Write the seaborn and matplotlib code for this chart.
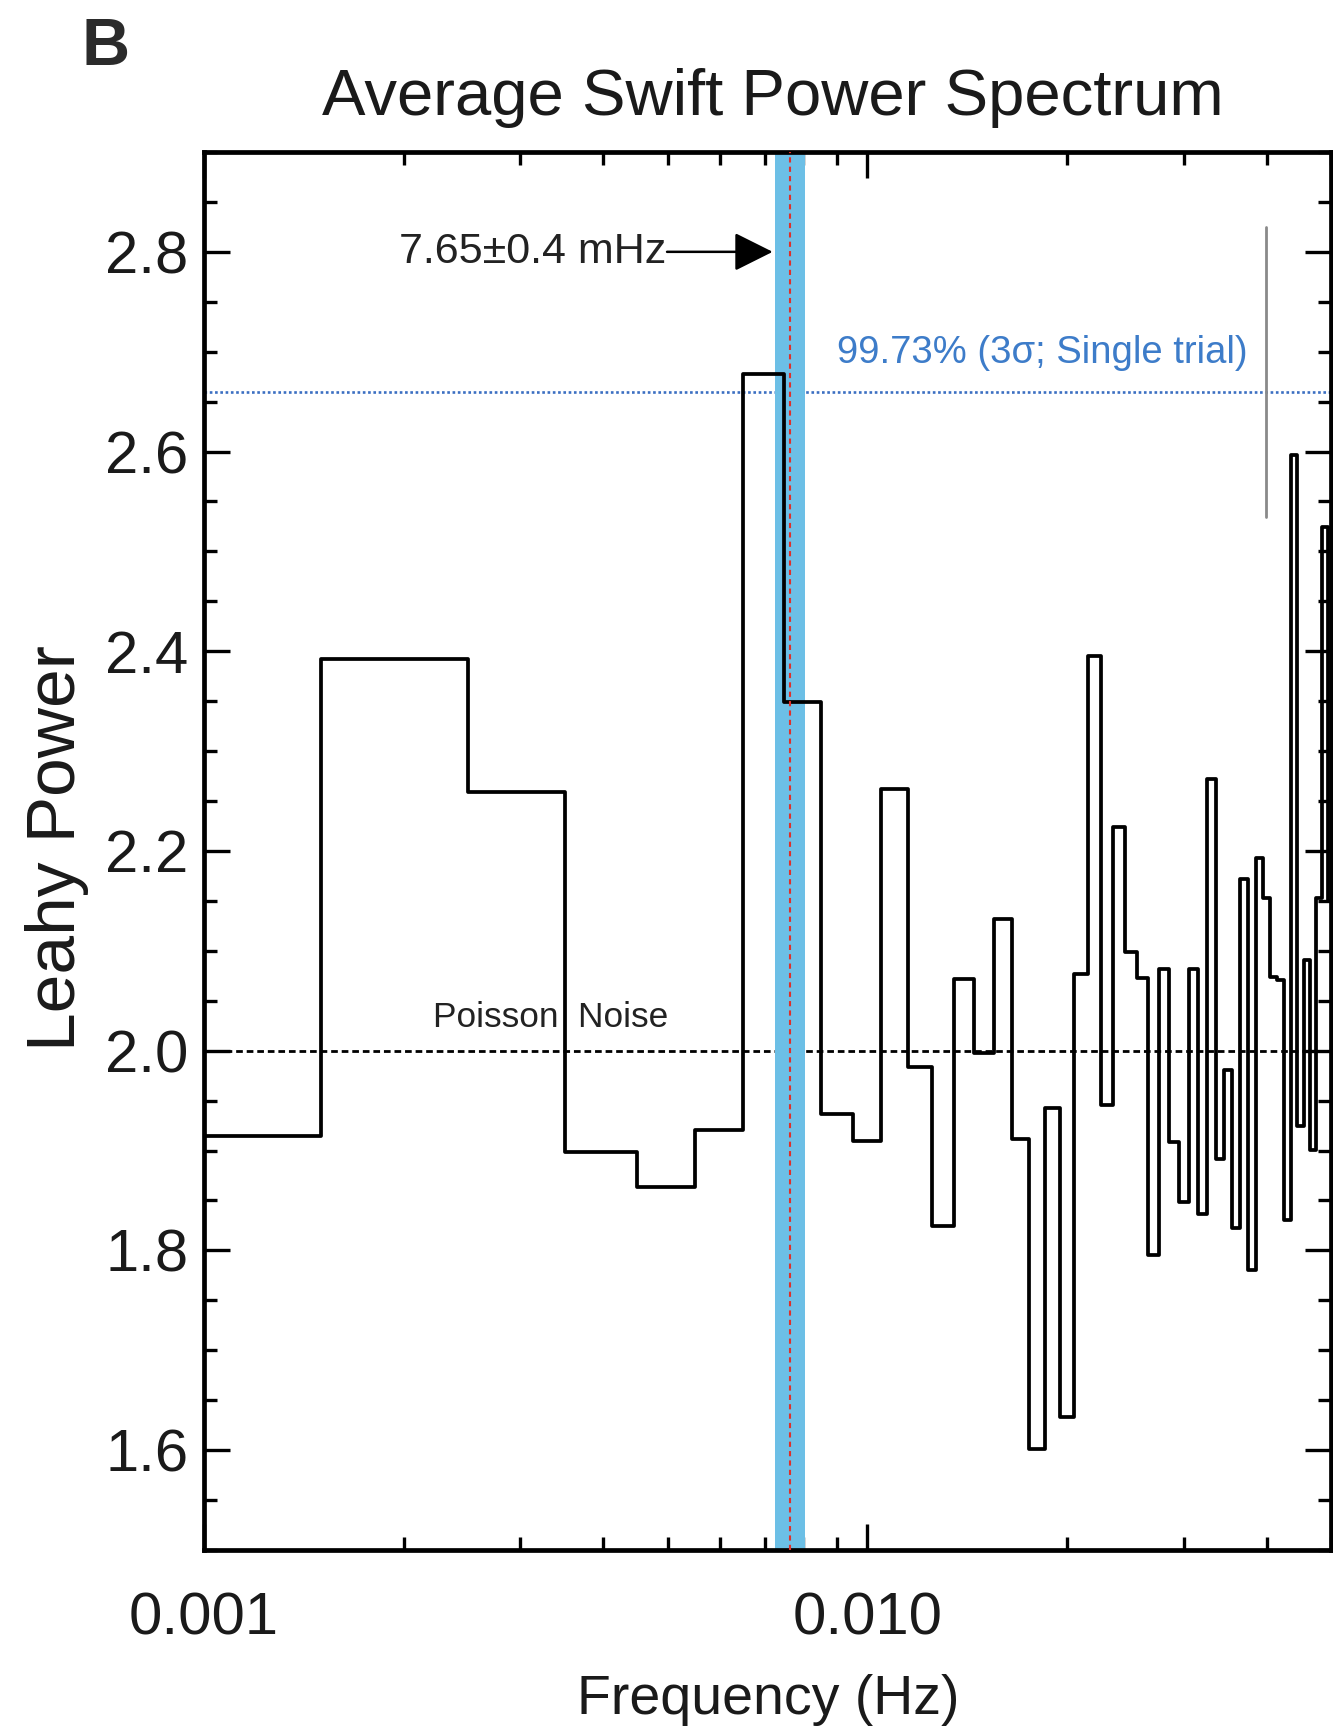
import numpy as np
import pandas as pd
import matplotlib
matplotlib.use("Agg")
import matplotlib.pyplot as plt
from matplotlib import font_manager
from matplotlib.ticker import MultipleLocator, LogLocator, NullFormatter, FixedLocator
import seaborn as sns

# ---------------- data ----------------
freq_mhz = [1, 2, 3, 4, 5, 6, 7, 8, 9, 10,
            11, 12, 13, 14, 15, 16, 17, 18, 19, 20,
            21, 22, 23, 24, 25, 26, 27, 28, 29, 30,
            31, 32, 33, 34, 35, 36, 37, 38, 39, 40,
            41, 42, 43, 44, 45, 46, 47, 48, 49, 50]
leahy_power = [1.915, 2.392, 2.259, 1.899, 1.864, 1.921, 2.678, 2.349, 1.937, 1.910,
               2.262, 1.984, 1.824, 2.072, 1.998, 2.132, 1.912, 1.601, 1.943, 1.633,
               2.077, 2.395, 1.946, 2.224, 2.099, 2.073, 1.795, 2.082, 1.909, 1.848,
               2.082, 1.836, 2.272, 1.892, 1.981, 1.822, 2.172, 1.780, 2.193, 2.153,
               2.074, 2.071, 1.830, 2.597, 1.925, 2.091, 1.901, 2.153, 2.524, 2.150]

qpo_center_hz = 7.65e-3
qpo_halfwidth_hz = 0.4e-3
poisson_level = 2.0
sig3_level = 2.66
errbar_freq = 0.0399
errbar_low, errbar_high = 2.534, 2.825

x_major = [0.001, 0.01]
x_major_labels = ["0.001", "0.010"]
y_major = [1.6, 1.8, 2.0, 2.2, 2.4, 2.6, 2.8]
y_major_labels = ["1.6", "1.8", "2.0", "2.2", "2.4", "2.6", "2.8"]

title = "Average Swift Power Spectrum"
xlabel = "Frequency (Hz)"
ylabel = "Leahy Power"
panel = "B"
qpo_text = "7.65\u00b10.4 mHz"
sig_text = "99.73% (3\u03c3; Single trial)"
poisson_text = "Poisson  Noise"

# ---------------- style ----------------
sns.set_theme(style="white")
names = {f.name for f in font_manager.fontManager.ttflist}
REG = "Liberation Sans" if "Liberation Sans" in names else "DejaVu Sans"
plt.rcParams["font.family"] = [REG, "DejaVu Sans"]
TXT = "#1a1a1a"

df = pd.DataFrame({"freq": np.array(freq_mhz) * 1e-3, "power": leahy_power})

fig = plt.figure(figsize=(13.33, 17.27), dpi=100)
ax = fig.add_axes([0.1530, 0.1025, 0.8455, 0.8095])

ax.set_xscale("log")
ax.set_xlim(0.001, 0.05)
ax.set_ylim(1.5, 2.9)

# band + reference lines
ax.axhline(poisson_level, color="black", lw=2.0, ls=(0, (2.4, 1.4)), zorder=1)
ax.axhline(sig3_level, color="#3b6fc2", lw=1.9, ls=(0, (1, 1)), zorder=1)
ax.axvspan(qpo_center_hz - qpo_halfwidth_hz, qpo_center_hz + qpo_halfwidth_hz,
           color="#6cbfe6", lw=0, zorder=2)
ax.axvline(qpo_center_hz, color="#e0302a", lw=1.5, ls=(0, (2.5, 2)), zorder=4)

sns.lineplot(data=df, x="freq", y="power", drawstyle="steps-mid",
             color="black", lw=2.7, ax=ax, zorder=3, errorbar=None)

ax.plot([errbar_freq, errbar_freq], [errbar_low, errbar_high],
        color="#8a8a8a", lw=2.0, zorder=3)

# ticks
ax.xaxis.set_major_locator(FixedLocator(x_major))
ax.set_xticklabels(x_major_labels)
ax.xaxis.set_minor_locator(LogLocator(base=10, subs=np.arange(2, 10)))
ax.xaxis.set_minor_formatter(NullFormatter())
ax.set_yticks(y_major)
ax.set_yticklabels(y_major_labels)
ax.yaxis.set_minor_locator(MultipleLocator(0.05))

ax.tick_params(which="both", direction="in", top=True, right=True,
               bottom=True, left=True, color="black", width=2.4)
ax.tick_params(which="major", length=19)
ax.tick_params(which="minor", length=9.5)
ax.tick_params(axis="y", which="major", pad=11)
ax.tick_params(axis="x", which="major", pad=30)
for lab in ax.get_xticklabels() + ax.get_yticklabels():
    lab.set_fontsize(43)
    lab.set_color(TXT)

for sp in ax.spines.values():
    sp.set_linewidth(3.4)
    sp.set_color("black")

ax.set_xlabel(xlabel, fontsize=40, color=TXT)
ax.set_ylabel(ylabel, fontsize=50, color=TXT)
ax.xaxis.set_label_coords(0.501, -0.0885)
ax.yaxis.set_label_coords(-0.102, 0.502)

# annotations
ax.text(2.218e-3, 2.024, poisson_text, fontsize=25.4,
        ha="left", va="baseline", color="#222222", zorder=5)
ax.text(1.97e-3, 2.8, qpo_text, fontsize=31,
        ha="left", va="center", color="#222222", zorder=5)
ax.annotate("", xy=(7.2e-3, 2.8), xytext=(4.99e-3, 2.8),
            arrowprops=dict(arrowstyle="-|>,head_length=0.4,head_width=0.2",
                            mutation_scale=60, color="black", lw=1.8,
                            shrinkA=0, shrinkB=0), zorder=5)
ax.text(9.01e-3, 2.689, sig_text, fontsize=27.5,
        ha="left", va="baseline", color="#3d7cc9", zorder=5)

fig.text(0.580, 0.9334, title, fontsize=47, ha="center", va="baseline", color=TXT)
fig.text(0.061, 0.9624, panel, fontsize=48, fontweight="bold", ha="left",
         va="baseline", color="#2b2b2b")

fig.savefig("out.png", dpi=100)
